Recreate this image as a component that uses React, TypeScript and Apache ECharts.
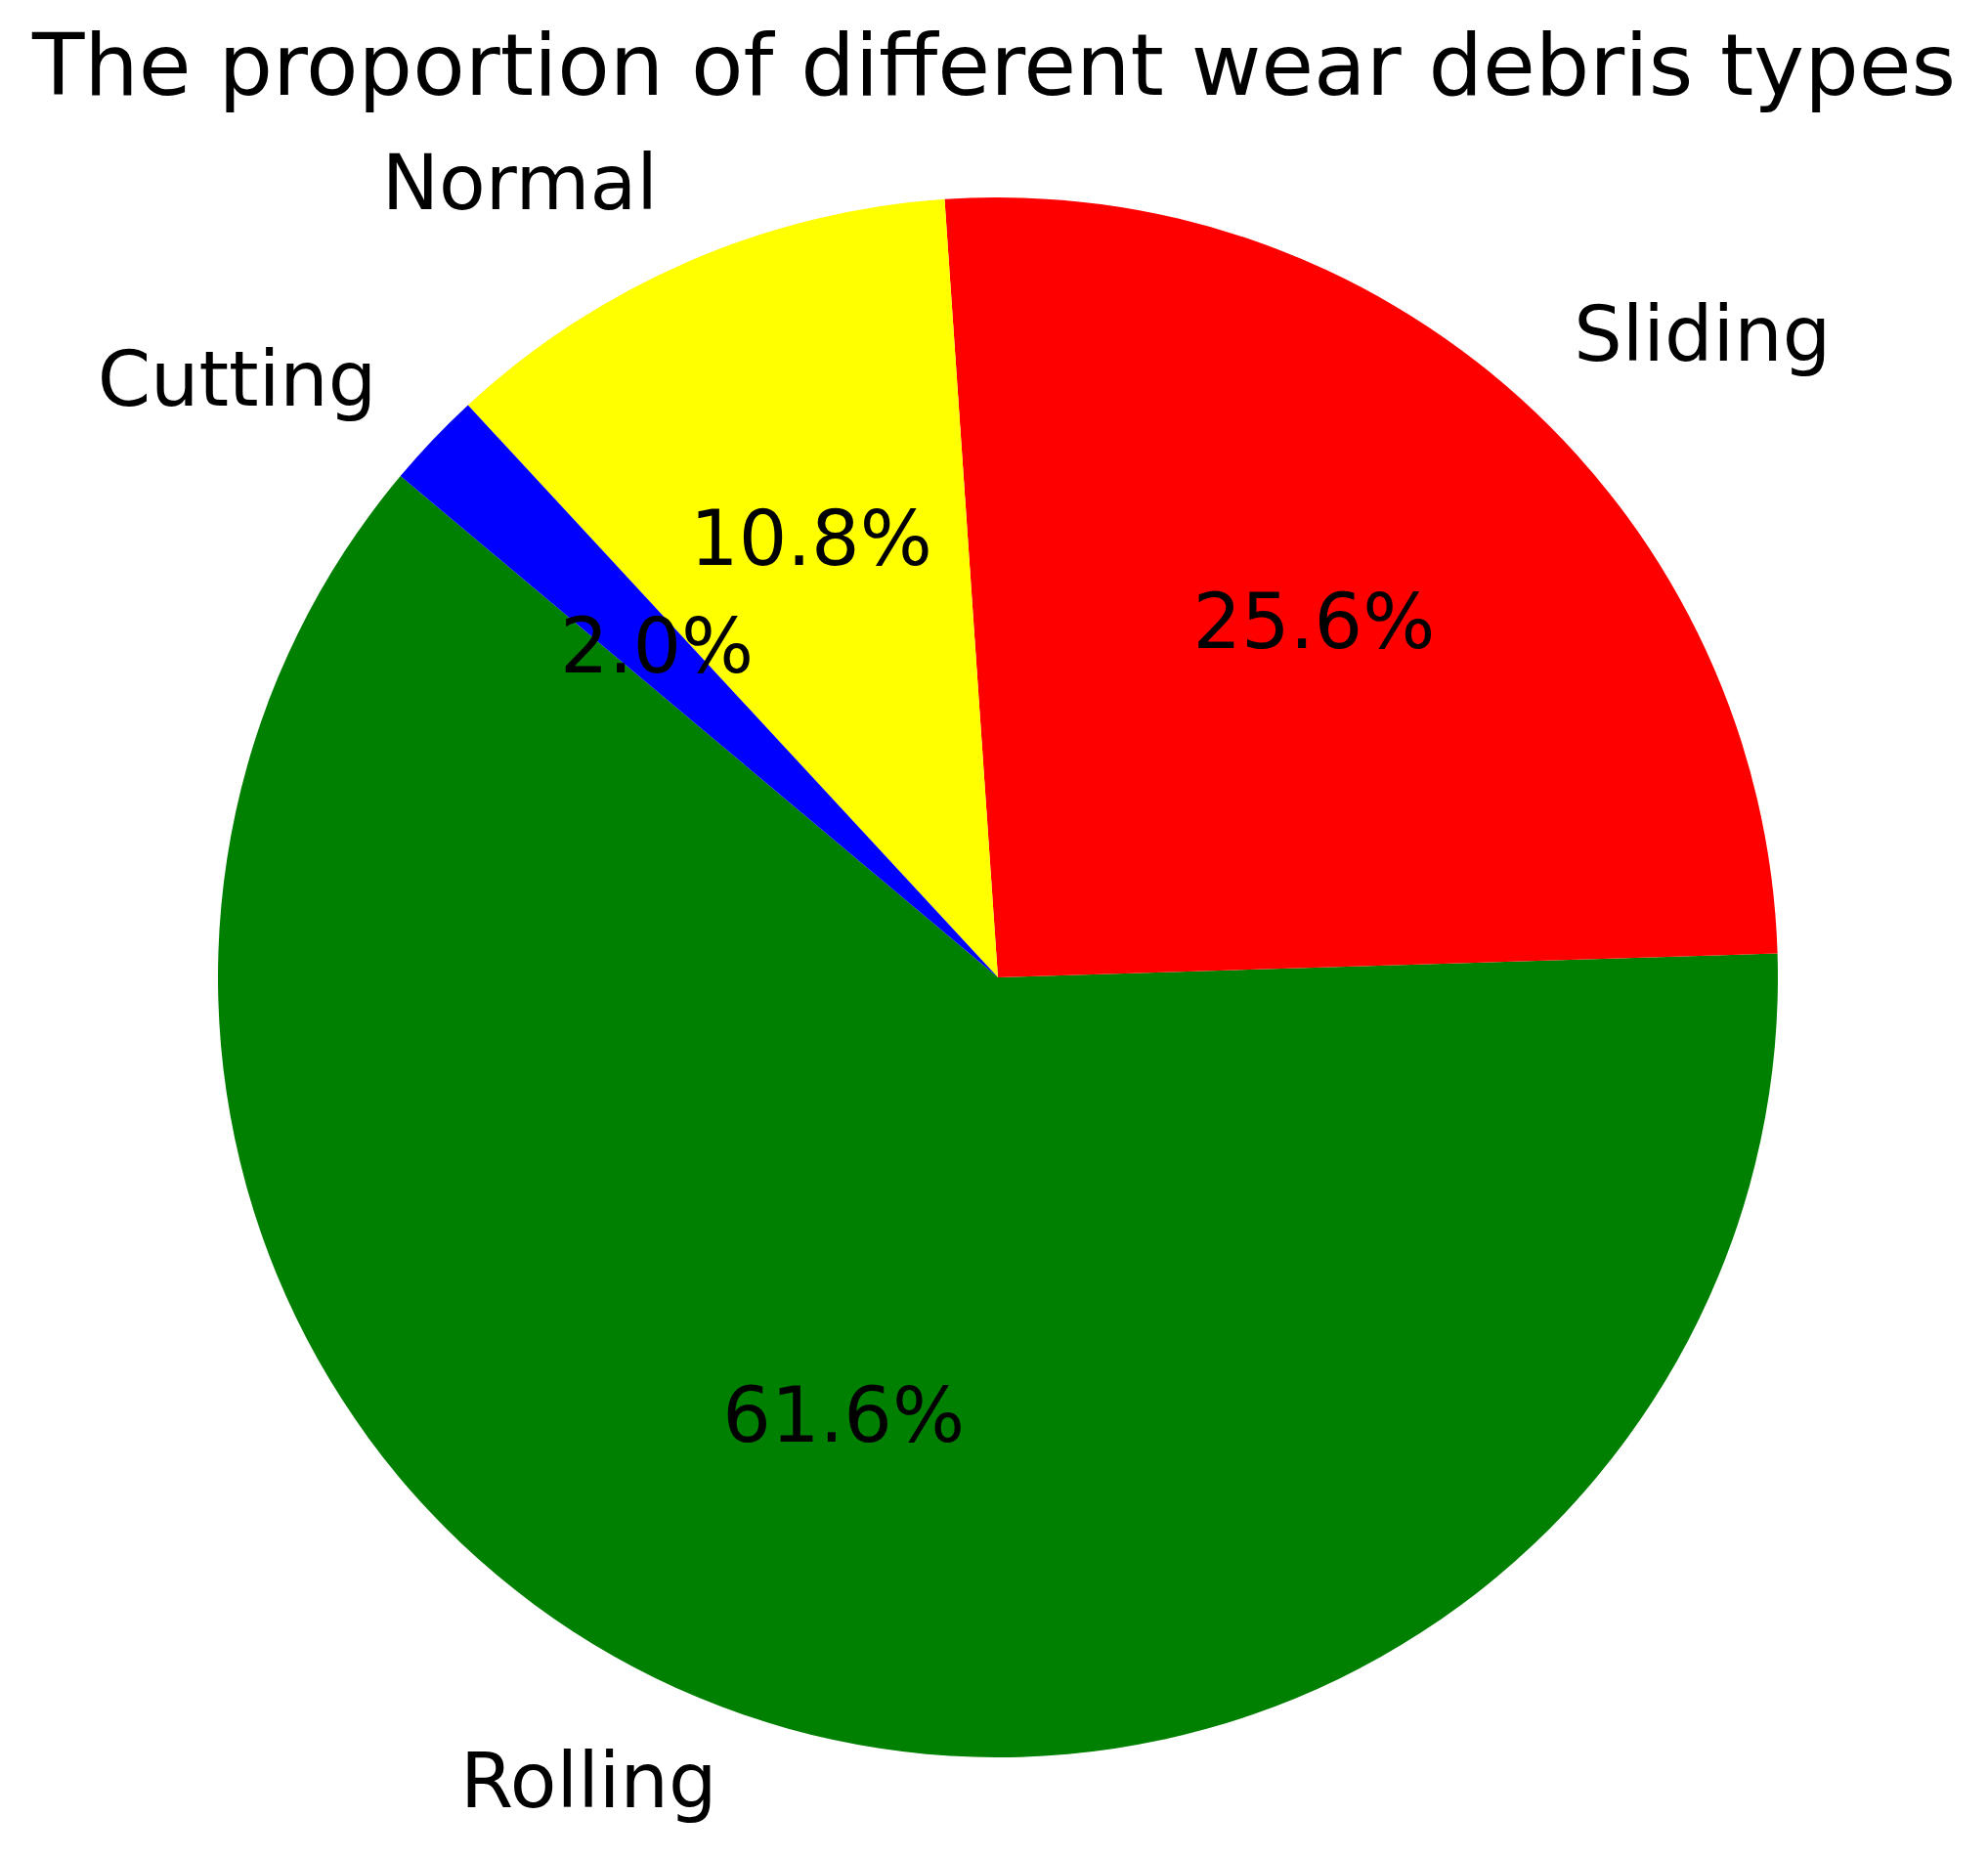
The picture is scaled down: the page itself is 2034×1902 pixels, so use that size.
import React, { useEffect, useRef } from "react";
import * as echarts from "echarts";

const titleText = "The proportion of different wear debris types";
const categories = ["Rolling", "Sliding", "Normal", "Cutting"];
const shares = [61.6, 25.6, 10.8, 2.0];
const colors = ["#008000", "#ff0000", "#ffff00", "#0000ff"];

const FONT = "DejaVu Sans";
const R = 798;
const CX = 1021;
const CY = 1000;

export default function App() {
  const ref = useRef<HTMLDivElement>(null);
  useEffect(() => {
    if (!ref.current) return;
    const chart = echarts.init(ref.current, null, { renderer: "svg" });
    const data = categories.map((name, i) => ({
      name,
      value: shares[i],
      itemStyle: { color: colors[i] },
    }));
    const total = shares.reduce((a, b) => a + b, 0);
    chart.setOption({
      animation: false,
      backgroundColor: "#ffffff",
      title: {
        text: titleText,
        left: "center",
        top: 18,
        textStyle: {
          fontFamily: FONT,
          fontSize: 87.5,
          fontWeight: "normal",
          color: "#000000",
          lineHeight: 88,
        },
      },
      series: [
        {
          type: "pie",
          center: [CX, CY],
          radius: [0, R],
          startAngle: 140,
          clockwise: false,
          avoidLabelOverlap: false,
          silent: true,
          itemStyle: { borderWidth: 0 },
          emphasis: { disabled: true },
          label: {
            show: true,
            position: "outside",
            formatter: "{b}",
            fontFamily: FONT,
            fontSize: 78,
            color: "#000000",
            distanceToLabelLine: 0,
            alignTo: "none",
          },
          labelLayout: { dy: -7 },
          labelLine: { show: false, length: R * 0.1, length2: 0 },
          data,
        },
        {
          type: "pie",
          center: [CX, CY],
          radius: [0, R * 1.2],
          startAngle: 140,
          clockwise: false,
          avoidLabelOverlap: false,
          silent: true,
          itemStyle: { color: "rgba(0,0,0,0)", borderWidth: 0 },
          emphasis: { disabled: true },
          label: {
            show: true,
            position: "inside",
            formatter: (p: any) => ((p.value / total) * 100).toFixed(1) + "%",
            fontFamily: FONT,
            fontSize: 78,
            color: "#000000",
          },
          labelLayout: { dy: -7 },
          labelLine: { show: false },
          data: categories.map((name, i) => ({
            name,
            value: shares[i],
            itemStyle: { color: "rgba(0,0,0,0)" },
          })),
        },
      ],
    });
    return () => chart.dispose();
  }, []);
  return (
    <div
      ref={ref}
      style={{ position: "absolute", left: 0, top: 0, width: 2034, height: 1902 }}
    />
  );
}
